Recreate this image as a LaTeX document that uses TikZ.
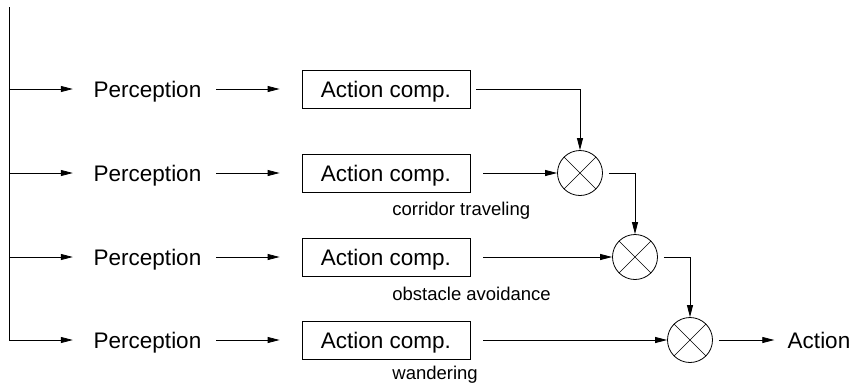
\documentclass[tikz,border=0pt]{standalone}
\usepackage{fontspec}
\setmainfont{Liberation Sans}
\usetikzlibrary{arrows.meta}
\begin{document}
\begin{tikzpicture}[x=1pt,y=-1pt,
  line width=0.8pt,
  arr/.style={-{Triangle[length=12pt,width=6pt]}},
  bigtext/.style={font=\fontsize{22.5}{27}\selectfont, text height=16.1pt, text depth=0pt},
  perc/.style={bigtext, inner sep=0pt},
  comp/.style={bigtext, draw, minimum width=168pt, minimum height=38pt, inner sep=0pt},
  mult/.style={circle, draw, minimum size=45pt, inner sep=0pt,
    path picture={\draw[line width=0.6pt]
      (path picture bounding box.north west) -- (path picture bounding box.south east)
      (path picture bounding box.south west) -- (path picture bounding box.north east);}},
  lab/.style={anchor=base west, inner sep=0pt, font=\fontsize{18.5}{22}\selectfont}]
\useasboundingbox (0,0) rectangle (855,384);

% spine
\coordinate (top) at (9,7);
\coordinate (s1) at (9,89);
\coordinate (s2) at (9,173);
\coordinate (s3) at (9,257);
\coordinate (s4) at (9,340);
\draw (top) -- (s4);

% perception nodes
\node[perc] (p1) at (147.5,89) {Perception};
\node[perc] (p2) at (147.5,173) {Perception};
\node[perc] (p3) at (147.5,257) {Perception};
\node[perc] (p4) at (147.5,340) {Perception};

% action components
\node[comp] (a1) at (386,89) {Action comp.};
\node[comp] (a2) at (386,173) {Action comp.};
\node[comp] (a3) at (386,257) {Action comp.};
\node[comp] (a4) at (386,340) {Action comp.};

% labels
\node[lab] (l2) at (392,215) {corridor traveling};
\node[lab] (l3) at (392,300) {obstacle avoidance};
\node[lab] (l4) at (392,379) {wandering};

% multipliers
\node[mult] (c1) at (580,173) {};
\node[mult] (c2) at (635,257) {};
\node[mult] (c3) at (690,340) {};

% output
\node[perc] (out) at (819,340) {Action};

% connectors
\foreach \i in {1,2,3,4}{
  \draw[arr, shorten >=20.5pt] (s\i) -- (p\i);
  \draw[arr, shorten <=14.5pt, shorten >=22pt] (p\i) -- (a\i);
}
\draw[arr, shorten <=6pt] (a1.east) -| (c1.north);
\draw[arr, shorten <=13pt] (a2.east) -- (c1.west);
\draw[arr, shorten <=13pt] (a3.east) -- (c2.west);
\draw[arr, shorten <=13pt] (a4.east) -- (c3.west);
\draw[arr, shorten <=6pt] (c1.east) -| (c2.north);
\draw[arr, shorten <=6pt] (c2.east) -| (c3.north);
\draw[arr, shorten <=6pt, shorten >=13pt] (c3.east) -- (out.west);
\end{tikzpicture}
\end{document}
